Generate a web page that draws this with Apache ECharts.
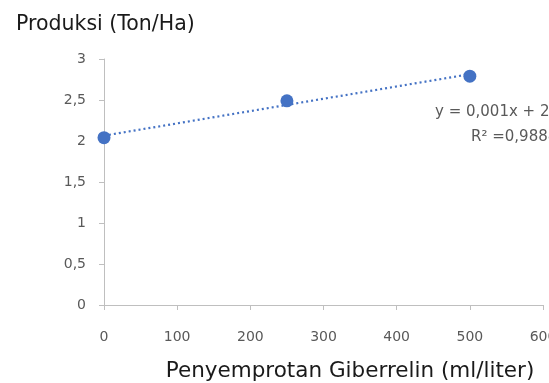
<!DOCTYPE html>
<html>
<head>
	<meta charset="utf-8"/>
	<title>Produksi</title>
	<style>
		* { margin: 0; padding: 0; }
		body { background: #fff; }
	</style>
</head>
<body>
	<div style="width: 549px;height:383px;" id="myChart"></div>

	<script src="https://cdn.jsdelivr.net/npm/echarts@6/dist/echarts.min.js"></script>
	<script>
		// data
		var dosis = [0, 250, 500];
		var produksi = [2.04, 2.49, 2.79];
		var yTicks = [0, 0.5, 1, 1.5, 2, 2.5, 3];

		// linear trend line (least squares) from the points
		var n = dosis.length, sx = 0, sy = 0, sxx = 0, sxy = 0;
		for (var i = 0; i < n; i++) {
			sx += dosis[i]; sy += produksi[i];
			sxx += dosis[i] * dosis[i]; sxy += dosis[i] * produksi[i];
		}
		var slope = (n * sxy - sx * sy) / (n * sxx - sx * sx);
		var icpt = (sy - slope * sx) / n;
		var trend = [[dosis[0], icpt + slope * dosis[0]], [dosis[n - 1], icpt + slope * dosis[n - 1]]];

		var font = 'DejaVu Sans';
		var myChart = echarts.init(document.getElementById('myChart'));

		var option = {
			animation: false,
			textStyle: { fontFamily: font },
			title: {
				text: 'Produksi (Ton/Ha)',
				left: 11, top: 9,
				textStyle: { fontSize: 20.5, fontWeight: 'normal', color: '#1a1a1a', fontFamily: font }
			},
			grid: { left: 104, right: 6, top: 59, bottom: 78, outerBoundsMode: 'none' },
			xAxis: {
				type: 'value',
				min: 0, max: 600, interval: 100,
				name: 'Penyemprotan Giberrelin (ml/liter)',
				nameLocation: 'middle',
				nameGap: 55,
				nameTextStyle: { fontSize: 21.5, color: '#1a1a1a', padding: [0, 0, 0, 53] },
				axisLine: { lineStyle: { color: '#bfbfbf' } },
				axisTick: { show: true, length: 5, lineStyle: { color: '#bfbfbf' } },
				axisLabel: { fontSize: 14, color: '#595959', margin: 25 },
				splitLine: { show: false }
			},
			yAxis: {
				type: 'value',
				min: 0, max: 3, interval: 0.5,
				axisLine: { show: true, lineStyle: { color: '#bfbfbf' } },
				axisTick: { show: true, length: 5, lineStyle: { color: '#bfbfbf' } },
				axisLabel: {
					fontSize: 14, color: '#595959', margin: 18,
					formatter: function (v) { return String(v).replace('.', ','); }
				},
				splitLine: { show: false }
			},
			series: [
				{
					type: 'line',
					data: trend,
					symbol: 'none',
					lineStyle: { color: '#4472c4', width: 2.2, type: [2, 3] },
					z: 1
				},
				{
					type: 'scatter',
					data: dosis.map(function (d, i) { return [d, produksi[i]]; }),
					symbolSize: 13,
					itemStyle: { color: '#4472c4', opacity: 1 },
					z: 2
				}
			],
			graphic: [
				{
					type: 'text', left: 435, top: 105,
					style: { text: 'y = 0,001x + 2,066', fontSize: 15, fill: '#595959', fontFamily: font }
				},
				{
					type: 'text', left: 471, top: 130,
					style: { text: 'R² =0,9888', fontSize: 15, fill: '#595959', fontFamily: font }
				}
			]
		};

		myChart.setOption(option);
	</script>
</body>
</html>
